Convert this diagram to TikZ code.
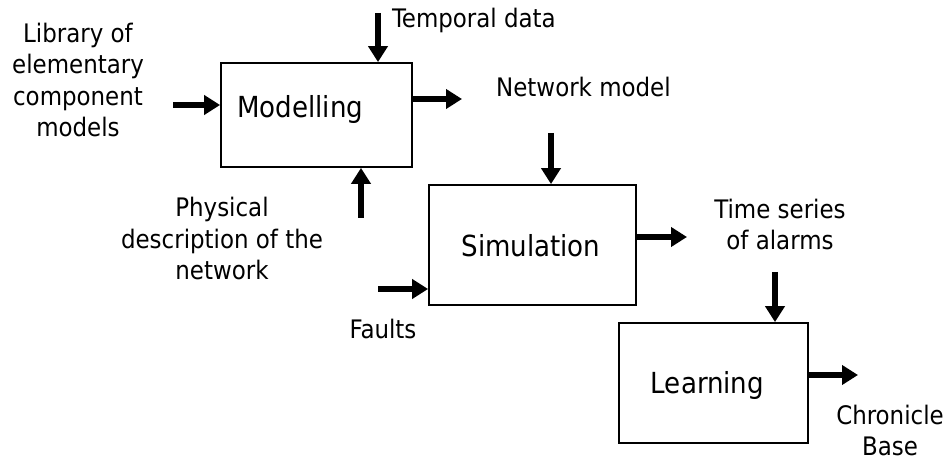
\documentclass[tikz,border=0pt]{standalone}
\usepackage{fontspec}
\setmainfont{DejaVu Sans Condensed}
\usetikzlibrary{arrows.meta}

\begin{document}
\begin{tikzpicture}[x=1pt, y=-1pt,
  stage/.style={draw, line width=1.8pt, inner sep=0pt},
  stagetext/.style={font=\fontsize{29}{34}\selectfont, inner sep=0pt, anchor=base},
  caption/.style={font=\fontsize{25.5}{31.6}\selectfont, inner sep=0pt, align=center, anchor=base},
  flow/.style={line width=6.5pt, -{Triangle[length=16pt, width=19pt]}}
]
\useasboundingbox (0,0) rectangle (946,462);

% process boxes
\node[stage, minimum width=191pt, minimum height=104pt] (mod) at (316.5,115) {};
\node[stage, minimum width=207pt, minimum height=120pt] (sim) at (532.5,245) {};
\node[stage, minimum width=189pt, minimum height=120pt] (lrn) at (713.5,383) {};

\node[stagetext, anchor=base west] (modt) at (237,118) {Modelling};
\node[stagetext] (simt) at (531,257) {Simulation};
\node[stagetext] (lrnt) at (707.5,394) {Learning};

% labels (multi-line ones are placed by the baseline of their last line)
\node[caption] (lib) at (78,137) {Library of\\elementary\\component\\models};
\node[caption, anchor=base west] (temp) at (392,28) {Temporal data};
\node[caption, anchor=base west] (netm) at (496,97) {Network model};
\node[caption] (phys) at (222,280) {Physical\\description of the\\network};
\node[caption] (faults) at (383,339) {Faults};
\node[caption] (alarms) at (780,250) {Time series\\of alarms};
\node[caption] (chron) at (890,456) {Chronicle\\Base};

% free ends of the arrows
\coordinate (libS) at (173,105);
\coordinate (tempS) at (378,13);
\coordinate (modE) at (462,99);
\coordinate (physS) at (361,218);
\coordinate (netS) at (551,133);
\coordinate (faultS) at (378,289);
\coordinate (simE) at (687,237);
\coordinate (alarmS) at (775,272);
\coordinate (lrnE) at (858,375);

% arrows
\draw[flow] (libS) -- (libS -| mod.west);
\draw[flow] (tempS) -- (tempS |- mod.north);
\draw[flow] (modE -| mod.east) -- (modE);
\draw[flow] (physS) -- (physS |- mod.south);
\draw[flow] (netS) -- (netS |- sim.north);
\draw[flow] (faultS) -- (faultS -| sim.west);
\draw[flow] (simE -| sim.east) -- (simE);
\draw[flow] (alarmS) -- (alarmS |- lrn.north);
\draw[flow] (lrnE -| lrn.east) -- (lrnE);
\end{tikzpicture}
\end{document}
